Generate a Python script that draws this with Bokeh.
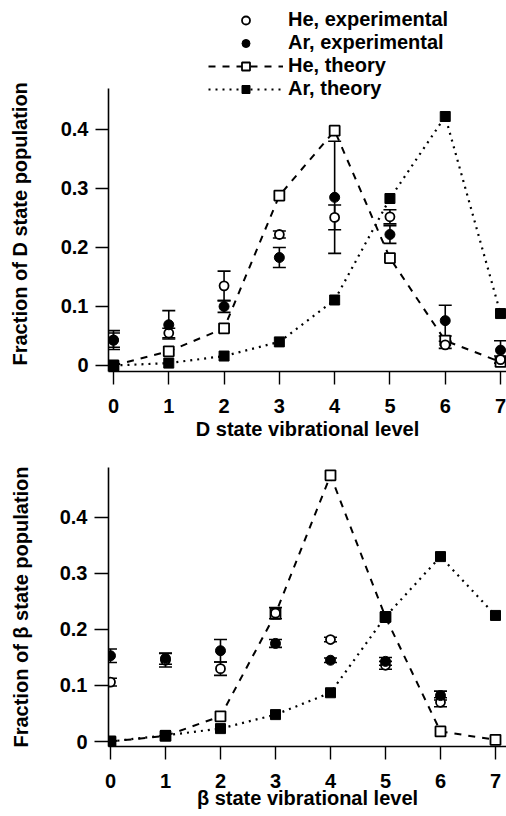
from bokeh.plotting import figure
from bokeh.models import (ColumnDataSource, Whisker, TeeHead, Legend, LegendItem,
                          FixedTicker, Range1d, Title)
from bokeh.layouts import column
from bokeh.embed import file_html
from bokeh.resources import INLINE

# ---------------- data ----------------
levels = [0, 1, 2, 3, 4, 5, 6, 7]
x_ticks = [0, 1, 2, 3, 4, 5, 6, 7]
y_ticks = [0, 0.1, 0.2, 0.3, 0.4]

# D state panel
he_theory_D = [0.0, 0.024, 0.063, 0.288, 0.398, 0.182, 0.042, 0.006]
ar_theory_D = [0.0, 0.004, 0.016, 0.040, 0.111, 0.283, 0.422, 0.088]
he_exp_D = [0.043, 0.055, 0.135, 0.222, 0.251, 0.252, 0.035, 0.010]
he_err_D = [0.012, 0.008, 0.025, 0.006, 0.021, 0.012, 0.006, 0.006]
ar_exp_D = [0.043, 0.069, 0.100, 0.183, 0.285, 0.222, 0.076, 0.026]
ar_err_D = [0.016, 0.024, 0.010, 0.017, 0.095, 0.015, 0.026, 0.016]

# beta state panel
exp_levels_B = [0, 1, 2, 3, 4, 5, 6]
he_theory_B = [0.0, 0.010, 0.045, 0.228, 0.475, 0.222, 0.018, 0.003]
ar_theory_B = [0.0, 0.011, 0.023, 0.048, 0.087, 0.223, 0.330, 0.225]
he_exp_B = [0.106, 0.145, 0.130, 0.229, 0.182, 0.136, 0.070]
he_err_B = [0.007, 0.012, 0.012, 0.010, 0.004, 0.007, 0.008]
ar_exp_B = [0.153, 0.148, 0.162, 0.175, 0.145, 0.143, 0.082]
ar_err_B = [0.012, 0.010, 0.020, 0.007, 0.004, 0.007, 0.008]

FONT = "Liberation Sans"
FS = "20px"
FSTYLE = "bold"


def style_axes(p, xlabel, ylabel, label_standoff_y, tick_out_y, xlab_standoff):
    p.xgrid.visible = False
    p.ygrid.visible = False
    p.outline_line_color = None
    p.background_fill_color = "white"
    p.border_fill_color = "white"
    for ax in (p.xaxis[0], p.yaxis[0]):
        ax.axis_line_color = "black"
        ax.axis_line_width = 1.6
        ax.major_tick_line_color = "black"
        ax.major_tick_line_width = 1.4
        ax.major_tick_in = 0
        ax.minor_tick_line_color = None
        ax.major_label_text_font = FONT
        ax.major_label_text_font_size = FS
        ax.major_label_text_font_style = FSTYLE
        ax.major_label_text_color = "black"
        ax.axis_label_text_font = FONT
        ax.axis_label_text_font_size = FS
        ax.axis_label_text_font_style = FSTYLE
        ax.axis_label_text_color = "black"
    p.xaxis[0].ticker = FixedTicker(ticks=x_ticks)
    p.yaxis[0].ticker = FixedTicker(ticks=y_ticks)
    p.yaxis[0].major_label_overrides = {0: "0"}
    p.xaxis[0].major_tick_out = 13
    p.yaxis[0].major_tick_out = tick_out_y
    p.xaxis[0].major_label_standoff = 14
    p.yaxis[0].major_label_standoff = 7
    p.xaxis[0].axis_label = xlabel
    p.yaxis[0].axis_label = ylabel
    p.xaxis[0].axis_label_standoff = xlab_standoff
    p.yaxis[0].axis_label_standoff = label_standoff_y


def add_errors(p, xs, ys, errs):
    src = ColumnDataSource(dict(x=xs,
                                lo=[y - e for y, e in zip(ys, errs)],
                                hi=[y + e for y, e in zip(ys, errs)]))
    w = Whisker(base="x", lower="lo", upper="hi", source=src,
                line_color="black", line_width=1.6,
                upper_head=TeeHead(size=13, line_width=1.6, line_color="black"),
                lower_head=TeeHead(size=13, line_width=1.6, line_color="black"))
    p.add_layout(w)


def panel(x_rng, y_rng, y_bounds, w, h, mb_left, mb_top, mb_bottom,
          he_th, ar_th, exp_x, he_e, he_err, ar_e, ar_err,
          xlabel, ylabel, label_standoff_y, tick_out_y, xlab_standoff):
    p = figure(width=w, height=h, output_backend="svg", toolbar_location=None,
               x_range=Range1d(*x_rng), y_range=Range1d(*y_rng),
               min_border_left=mb_left, min_border_right=0,
               min_border_top=mb_top, min_border_bottom=mb_bottom)
    style_axes(p, xlabel, ylabel, label_standoff_y, tick_out_y, xlab_standoff)
    p.yaxis[0].bounds = y_bounds

    he_line = p.line(levels, he_th, line_color="black", line_width=2, line_dash="7 7")
    ar_line = p.line(levels, ar_th, line_color="black", line_width=2.2, line_dash="2 5")

    add_errors(p, exp_x, he_e, he_err)
    add_errors(p, exp_x, ar_e, ar_err)

    he_sq = p.scatter(levels, he_th, marker="square", size=10, fill_color="white",
                      line_color="black", line_width=1.8)
    ar_sq = p.scatter(levels, ar_th, marker="square", size=10, fill_color="black",
                      line_color="black", line_width=1)
    he_c = p.scatter(exp_x, he_e, marker="circle", size=9, fill_color="white",
                     line_color="black", line_width=1.8)
    ar_c = p.scatter(exp_x, ar_e, marker="circle", size=10, fill_color="black",
                     line_color="black", line_width=1)
    return p, dict(he_line=he_line, ar_line=ar_line, he_sq=he_sq, ar_sq=ar_sq,
                   he_c=he_c, ar_c=ar_c)


# top panel: frame x 108..506, y 0..371 (axis drawn only from -0.0102 to 0.4695)
p1, r1 = panel((-0.09, 7.108), (-0.0102, 0.6186), (-0.0102, 0.4695),
               506, 448, 108, 0, 77,
               he_theory_D, ar_theory_D, levels, he_exp_D, he_err_D, ar_exp_D, ar_err_D,
               "D state vibrational level", " ", 14, 13, 2)
# the blank axis label only reserves room; the real y label is a side title
p1.yaxis[0].axis_label_text_font_size = "1px"

# y label of the top panel, placed from the bottom of the frame upwards
ytitle = Title(text="Fraction of D state population", align="left", offset=6,
               vertical_align="middle", standoff=15,
               text_font=FONT, text_font_size=FS, text_font_style=FSTYLE,
               text_color="black")
p1.add_layout(ytitle, "left")

legend = Legend(items=[
    LegendItem(label="He, experimental", renderers=[r1["he_c"]]),
    LegendItem(label="Ar, experimental", renderers=[r1["ar_c"]]),
    LegendItem(label="He, theory", renderers=[r1["he_line"], r1["he_sq"]]),
    LegendItem(label="Ar, theory", renderers=[r1["ar_line"], r1["ar_sq"]]),
], location=(100, 271), padding=0, margin=0, spacing=0,
    glyph_width=75, glyph_height=20, label_height=20, label_standoff=5,
    label_text_font=FONT, label_text_font_size=FS, label_text_font_style=FSTYLE,
    label_text_line_height=0.9,
    label_text_color="black", border_line_color=None, background_fill_alpha=0)
p1.add_layout(legend)

# bottom panel: frame x ~105..506, y 467..746
p2, r2 = panel((-0.036, 7.2), (-0.0089, 0.489), (-0.0089, 0.489),
               506, 368, 105, 19, 70,
               he_theory_B, ar_theory_B, exp_levels_B, he_exp_B, he_err_B, ar_exp_B, ar_err_B,
               "β state vibrational level", "Fraction of β state population", 25, 14, -4)

layout = column(p1, p2, spacing=0)
open("out.html", "w").write(file_html(layout, INLINE))
